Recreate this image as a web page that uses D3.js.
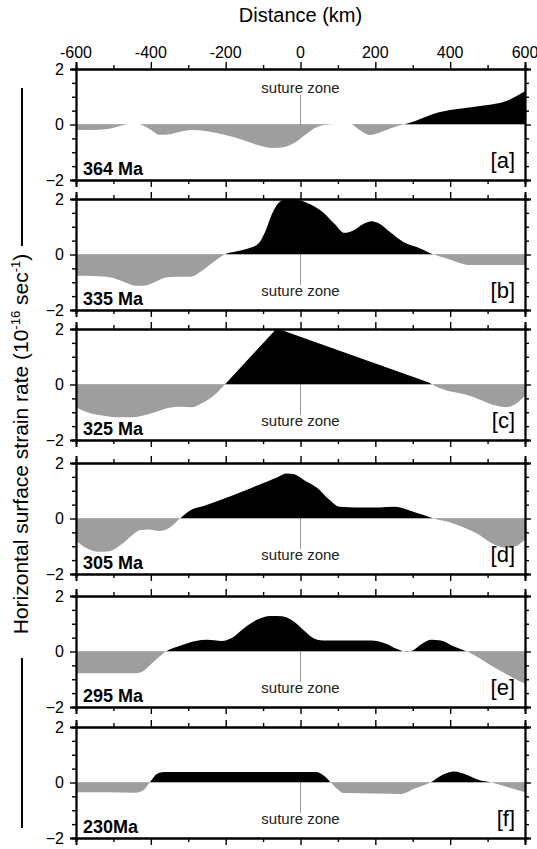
<!DOCTYPE html>
<html>
<head>
<meta charset="utf-8">
<script src="https://cdn.jsdelivr.net/npm/d3@7"></script>
<style>
  body { margin: 0; background: #fff; }
  svg { display: block; }
  text { font-family: "Liberation Sans", Arial, Helvetica, sans-serif; fill: #000; }
</style>
</head>
<body>
<svg id="chart" width="537" height="849"></svg>
<script>
// Horizontal surface strain rate (1e-16 / s) along a 1200 km profile, six time slices.
const distanceTicks = [-600, -400, -200, 0, 200, 400, 600];
const distanceMinorTicks = [-500, -300, -100, 100, 300, 500];
const rateTicks = [2, 0, -2];
const rateMinorTicks = [1.5, 1, 0.5, -0.5, -1, -1.5];
const panelLetters = ["a", "b", "c", "d", "e", "f"];
const panelAges = ["364 Ma", "335 Ma", "325 Ma", "305 Ma", "295 Ma", "230Ma"];

// [distance km, strain rate]
const rate364 = [[-600,-0.2],[-560,-0.2],[-520,-0.17],[-490,-0.08],[-460,0],[-430,0],[-405,-0.15],[-375,-0.37],[-350,-0.35],[-320,-0.25],[-290,-0.2],[-250,-0.24],[-200,-0.38],[-150,-0.58],[-110,-0.76],[-75,-0.85],[-45,-0.82],[-15,-0.65],[15,-0.35],[40,-0.12],[65,-0.02],[100,0],[135,0],[160,-0.22],[185,-0.38],[210,-0.3],[245,-0.12],[275,0],[305,0.12],[335,0.28],[370,0.44],[410,0.54],[460,0.63],[510,0.72],[540,0.8],[570,0.97],[600,1.2]];
const rate335 = [[-600,-0.77],[-540,-0.78],[-500,-0.85],[-470,-1.0],[-440,-1.13],[-420,-1.13],[-390,-1.0],[-360,-0.83],[-330,-0.8],[-295,-0.8],[-265,-0.6],[-235,-0.3],[-203,0],[-170,0.12],[-140,0.22],[-112,0.4],[-95,0.8],[-75,1.5],[-55,1.9],[-35,2.0],[-10,1.97],[20,1.85],[55,1.58],[90,1.12],[118,0.78],[140,0.86],[168,1.1],[190,1.2],[210,1.12],[240,0.8],[275,0.45],[320,0.22],[356,0],[385,-0.12],[420,-0.28],[450,-0.38],[500,-0.38],[600,-0.38]];
const rate325 = [[-600,-0.82],[-570,-1.0],[-530,-1.12],[-490,-1.18],[-450,-1.18],[-420,-1.12],[-385,-0.98],[-355,-0.85],[-320,-0.8],[-290,-0.82],[-260,-0.65],[-230,-0.38],[-202,0],[-65,2.0],[-55,1.98],[345,0.06],[352,0],[450,-0.4],[548,-0.82],[575,-0.7],[600,-0.4]];
const rate305 = [[-600,-0.8],[-570,-1.08],[-540,-1.2],[-510,-1.18],[-480,-0.95],[-450,-0.6],[-430,-0.42],[-405,-0.4],[-378,-0.45],[-350,-0.33],[-322,0],[-294,0.3],[-257,0.46],[-150,1.0],[-60,1.5],[-37,1.62],[-19,1.6],[10,1.38],[45,1.1],[75,0.7],[105,0.42],[150,0.4],[210,0.4],[250,0.42],[290,0.3],[325,0.14],[356,0],[395,-0.12],[438,-0.33],[475,-0.57],[510,-0.88],[548,-1.05],[575,-1.0],[600,-0.75]];
const rate295 = [[-600,-0.78],[-500,-0.78],[-440,-0.78],[-420,-0.7],[-395,-0.4],[-360,0],[-320,0.22],[-280,0.38],[-250,0.42],[-210,0.38],[-185,0.48],[-150,0.85],[-115,1.15],[-80,1.28],[-50,1.27],[-20,1.1],[10,0.75],[35,0.48],[60,0.4],[120,0.4],[190,0.4],[225,0.3],[260,0.08],[283,-0.02],[300,0.04],[325,0.28],[350,0.42],[375,0.4],[410,0.18],[445,0],[480,-0.25],[515,-0.55],[548,-0.8],[575,-1.0],[600,-1.15]];
const rate230 = [[-600,-0.35],[-520,-0.35],[-440,-0.37],[-420,-0.28],[-403,0],[-385,0.3],[-365,0.38],[-200,0.38],[0,0.38],[42,0.38],[62,0.25],[81,0],[100,-0.25],[115,-0.38],[200,-0.4],[270,-0.41],[305,-0.22],[347,0],[380,0.28],[411,0.4],[440,0.3],[475,0.1],[511,0],[550,-0.15],[600,-0.35]];
const panelRates = [rate364, rate335, rate325, rate305, rate295, rate230];

// layout
const plotLeft = 76, plotRight = 525;
const panelTops = [69, 199, 329, 463, 596, 727];
const panelHeight = 111;
const positiveFill = "#000";
const negativeFill = "#9e9e9e";

const svg = d3.select("#chart");
const x = d3.scaleLinear().domain([-600, 600]).range([plotLeft, plotRight]);

// vertical axis title with the bars on each side
const titleX = 28, titleY = 444;
const yTitle = svg.append("text")
  .attr("transform", `translate(${titleX},${titleY}) rotate(-90)`)
  .attr("text-anchor", "middle")
  .style("font-size", "21px");
yTitle.append("tspan").text("Horizontal surface strain rate (10");
yTitle.append("tspan").attr("dy", -8).style("font-size", "13px").text("-16");
yTitle.append("tspan").attr("dy", 8).text(" sec");
yTitle.append("tspan").attr("dy", -8).style("font-size", "13px").text("-1");
yTitle.append("tspan").attr("dy", 8).text(")");
svg.append("line").attr("x1", 22).attr("x2", 22).attr("y1", 88).attr("y2", 246)
  .attr("stroke", "#000").attr("stroke-width", 2);
svg.append("line").attr("x1", 22).attr("x2", 22).attr("y1", 658).attr("y2", 828)
  .attr("stroke", "#000").attr("stroke-width", 2);

// horizontal axis title and labels above the first panel
svg.append("text").attr("x", x(0)).attr("y", 22).attr("text-anchor", "middle")
  .style("font-size", "20px").text("Distance (km)");
svg.selectAll(".xlab").data(distanceTicks).join("text")
  .attr("class", "xlab")
  .attr("x", d => x(d)).attr("y", 58).attr("text-anchor", "middle")
  .style("font-size", "16px").text(d => d);

const defs = svg.append("defs");

panelRates.forEach((rates, i) => {
  const top = panelTops[i], bottom = top + panelHeight;
  const y = d3.scaleLinear().domain([-2, 2]).range([bottom, top]);
  const g = svg.append("g");

  defs.append("clipPath").attr("id", `pos${i}`).append("rect")
    .attr("x", plotLeft).attr("y", top).attr("width", plotRight - plotLeft).attr("height", y(0) - top);
  defs.append("clipPath").attr("id", `neg${i}`).append("rect")
    .attr("x", plotLeft).attr("y", y(0)).attr("width", plotRight - plotLeft).attr("height", bottom - y(0));

  const makeArea = curve => d3.area()
    .x(d => x(d[0])).y0(y(0)).y1(d => y(d[1]))
    .curve(curve);
  const smooth = makeArea(d3.curveMonotoneX);
  // the 325 Ma extension wedge has straight flanks
  const wedge = rates === rate325 ? makeArea(d3.curveLinear) : smooth;

  g.append("path").datum(rates).attr("d", smooth).attr("fill", negativeFill)
    .attr("clip-path", `url(#neg${i})`);
  g.append("path").datum(rates).attr("d", wedge).attr("fill", positiveFill)
    .attr("clip-path", `url(#pos${i})`);

  // suture zone marker at 0 km
  const above = i === 0;
  g.append("line")
    .attr("x1", x(0)).attr("x2", x(0))
    .attr("y1", y(0)).attr("y2", above ? top + 26 : top + 86)
    .attr("stroke", "#333").attr("stroke-width", 1).attr("stroke-dasharray", "1,1");
  g.append("text").attr("x", x(0)).attr("y", above ? top + 24 : top + 97)
    .attr("text-anchor", "middle").style("font-size", "15px").style("fill", "#222")
    .text("suture zone");

  // frame with outward ticks
  g.append("g").attr("transform", `translate(0,${top})`)
    .call(d3.axisTop(x).tickValues(distanceTicks).tickSize(7).tickFormat(""));
  g.append("g").attr("transform", `translate(0,${top})`)
    .call(d3.axisTop(x).tickValues(distanceMinorTicks).tickSize(4).tickFormat(""));
  g.append("g").attr("transform", `translate(0,${bottom})`)
    .call(d3.axisBottom(x).tickValues(distanceTicks).tickSize(7).tickFormat(""));
  g.append("g").attr("transform", `translate(0,${bottom})`)
    .call(d3.axisBottom(x).tickValues(distanceMinorTicks).tickSize(4).tickFormat(""));
  g.append("g").attr("transform", `translate(${plotLeft},0)`)
    .call(d3.axisLeft(y).tickValues(rateTicks).tickSize(6).tickPadding(6).tickFormat(d3.format("d")));
  g.append("g").attr("transform", `translate(${plotLeft},0)`)
    .call(d3.axisLeft(y).tickValues(rateMinorTicks).tickSize(4).tickFormat(""));
  g.append("g").attr("transform", `translate(${plotRight},0)`)
    .call(d3.axisRight(y).tickValues(rateTicks).tickSize(6).tickFormat(""));
  g.append("g").attr("transform", `translate(${plotRight},0)`)
    .call(d3.axisRight(y).tickValues(rateMinorTicks).tickSize(4).tickFormat(""));

  g.selectAll(".domain").attr("stroke", "#000").attr("stroke-width", 1.8);
  g.selectAll(".tick line").attr("stroke", "#000").attr("stroke-width", 1.4);
  g.selectAll(".tick text").style("font-size", "16px")
    .style("font-family", "'Liberation Sans', Arial, Helvetica, sans-serif").attr("fill", "#000");

  g.append("text").attr("x", plotLeft + 7).attr("y", bottom - 5)
    .style("font-size", "18px").style("font-weight", "bold").text(panelAges[i]);
  g.append("text").attr("x", plotRight - 10).attr("y", bottom - 12)
    .attr("text-anchor", "end").style("font-size", "22px").text(`[${panelLetters[i]}]`);
});
</script>
</body>
</html>
